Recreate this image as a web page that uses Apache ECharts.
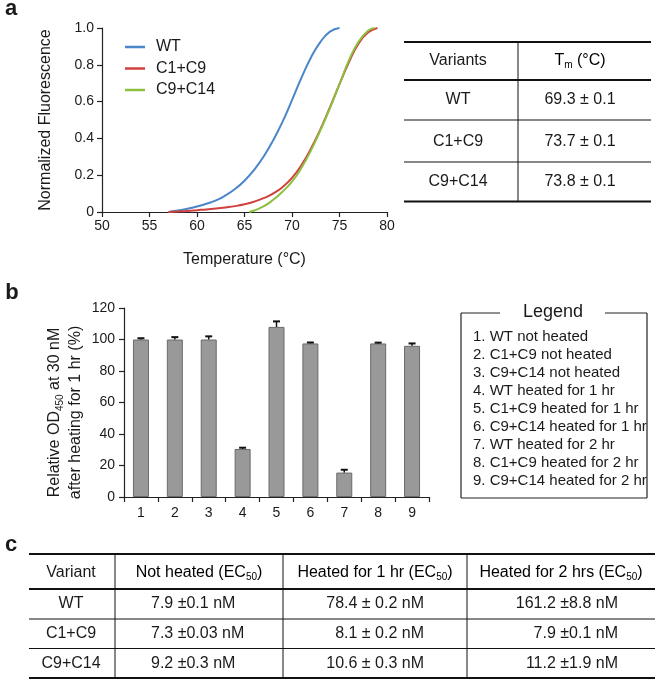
<!DOCTYPE html>
<html>
<head>
<meta charset="utf-8">
<script src="https://cdn.jsdelivr.net/npm/echarts@6/dist/echarts.min.js"></script>
<style>
html,body{margin:0;padding:0;background:#fff;}
#chart{width:660px;height:685px;}
</style>
</head>
<body>
<div id="chart"></div>
<script>
// ---------- Panel a: melting curves ----------
var tempsWT   = [57,58,59,60,61,62,63,64,65,66,67,68,69,70,71,72,73,74,75];
var fluorWT   = [0,0.008,0.018,0.03,0.045,0.063,0.09,0.125,0.17,0.228,0.3,0.388,0.49,0.608,0.73,0.84,0.925,0.98,1.0];
var tempsC1C9 = [57,58,59,60,61,62,63,64,65,66,67,68,69,70,71,72,73,74,75,76,77,78,79];
var fluorC1C9 = [0,0.003,0.006,0.01,0.014,0.019,0.025,0.032,0.042,0.056,0.075,0.1,0.135,0.185,0.255,0.345,0.45,0.57,0.695,0.815,0.915,0.975,1.0];
var tempsC9C14 = [65.5,66,67,68,69,70,71,72,73,74,75,76,77,78,78.7];
var fluorC9C14 = [0,0.008,0.03,0.065,0.11,0.165,0.24,0.335,0.445,0.565,0.695,0.825,0.925,0.985,1.0];
var seriesNames = ['WT','C1+C9','C9+C14'];
var seriesColors = ['#4a86c8','#d0403e','#8cc040'];

// Table a
var tableAHeader = ['Variants','Tm (°C)'];
var tableAVariants = ['WT','C1+C9','C9+C14'];
var tableATm = ['69.3 ± 0.1','73.7 ± 0.1','73.8 ± 0.1'];

// ---------- Panel b: bar chart ----------
var barCategories = ['1','2','3','4','5','6','7','8','9'];
var barValues = [100,100,100,30.5,108,97.5,15.5,97.5,96];
var barErrors = [0.8,1.5,2,0.8,3.5,0.6,1.8,0.5,1.5];
var legendItems = ['1. WT not heated','2. C1+C9 not heated','3. C9+C14 not heated','4. WT heated for 1 hr',
  '5. C1+C9 heated for 1 hr','6. C9+C14 heated for 1 hr','7. WT heated for 2 hr','8. C1+C9 heated for 2 hr','9. C9+C14 heated for 2 hr'];

// ---------- Panel c: table ----------
var tableCHeader = ['Variant','Not heated','Heated for 1 hr','Heated for 2 hrs'];
var tableCVariants = ['WT','C1+C9','C9+C14'];
var tableCNotHeated = ['7.9 ±0.1 nM','7.3 ±0.03 nM','9.2 ±0.3 nM'];
var tableCHeated1 = ['78.4 ± 0.2 nM','8.1 ± 0.2 nM','10.6 ± 0.3 nM'];
var tableCHeated2 = ['161.2 ±8.8 nM','7.9 ±0.1 nM','11.2 ±1.9 nM'];

var FONT = 'Liberation Sans, Arial, Helvetica, sans-serif';
var TXT = '#1a1a1a';
var AX = '#222';

function pairs(xs, ys){ return xs.map(function(x,i){ return [x, ys[i]]; }); }

var graphics = [];
function txt(x, y, text, size, align, weight){
  graphics.push({type:'text', z:10, style:{x:x, y:y, text:text, fill:TXT,
    font: (weight ? weight+' ' : '') + size+'px '+FONT, align: align||'center', verticalAlign:'middle'}});
}
function richTxt(x, y, text, size, align){
  graphics.push({type:'text', z:10, style:{x:x, y:y, text:text, align:align||'center', verticalAlign:'middle',
    rich:{a:{fontSize:size, fontFamily:FONT, color:TXT, lineHeight:size+2},
          s:{fontSize:Math.round(size*0.62), fontFamily:FONT, color:TXT, verticalAlign:'bottom', lineHeight:size+2}}}});
}
function hline(x1, x2, y, w){
  graphics.push({type:'line', z:9, shape:{x1:x1, y1:y, x2:x2, y2:y}, style:{stroke:'#111', lineWidth:w}});
}
function vline(x, y1, y2, w){
  graphics.push({type:'line', z:9, shape:{x1:x, y1:y1, x2:x, y2:y2}, style:{stroke:'#111', lineWidth:w}});
}

// panel labels
txt(11, 9, 'a', 22, 'center', 'bold');
txt(12, 293, 'b', 22, 'center', 'bold');
txt(11, 545, 'c', 22, 'center', 'bold');

// Table a
hline(404, 651, 42, 2);
hline(404, 651, 80, 2);
hline(404, 651, 120, 1);
hline(404, 651, 162, 1);
hline(404, 651, 201.5, 2);
vline(518, 42, 201.5, 1);
txt(458, 61, tableAHeader[0], 16);
richTxt(580, 61, '{a|T}{s|m}{a| (°C)}', 16);
var rowYA = [100, 141.5, 181.5];
for (var i=0;i<3;i++){
  txt(458, rowYA[i], tableAVariants[i], 16);
  txt(580, rowYA[i], tableATm[i], 16);
}

// Legend box for panel b
var LB = {x1:461, x2:647, y1:313, y2:498};
for (var i=0;i<legendItems.length;i++){
  txt(473, 337 + i*17.95, legendItems[i], 15, 'left');
}
graphics.push({type:'rect', z:11, shape:{x:647.5, y:314, width:13, height:184}, style:{fill:'#fff'}});
graphics.push({type:'line', z:12, shape:{x1:LB.x1, y1:LB.y1, x2:500, y2:LB.y1}, style:{stroke:'#222', lineWidth:1.2}});
graphics.push({type:'line', z:12, shape:{x1:605, y1:LB.y1, x2:LB.x2, y2:LB.y1}, style:{stroke:'#222', lineWidth:1.2}});
graphics.push({type:'line', z:12, shape:{x1:LB.x1, y1:LB.y1, x2:LB.x1, y2:LB.y2}, style:{stroke:'#222', lineWidth:1.2}});
graphics.push({type:'line', z:12, shape:{x1:LB.x2, y1:LB.y1, x2:LB.x2, y2:LB.y2}, style:{stroke:'#222', lineWidth:1.2}});
graphics.push({type:'line', z:12, shape:{x1:LB.x1, y1:LB.y2, x2:LB.x2, y2:LB.y2}, style:{stroke:'#222', lineWidth:1.2}});
txt(553, 312, 'Legend', 18);

// Table c
hline(29, 655, 554, 2);
hline(29, 655, 589, 2);
hline(29, 655, 619, 1);
hline(29, 655, 648.5, 1);
hline(29, 655, 678, 2);
vline(115, 554, 678, 1);
vline(283, 554, 678, 1);
vline(467, 554, 678, 1);
txt(71, 573, tableCHeader[0], 16);
richTxt(199, 573, '{a|'+tableCHeader[1]+' (EC}{s|50}{a|)}', 16);
richTxt(375, 573, '{a|'+tableCHeader[2]+' (EC}{s|50}{a|)}', 16);
richTxt(561, 573, '{a|'+tableCHeader[3]+' (EC}{s|50}{a|)}', 16);
var rowYC = [604, 633.5, 663.5];
for (var i=0;i<3;i++){
  txt(71, rowYC[i], tableCVariants[i], 16);
  txt(151, rowYC[i], tableCNotHeated[i], 16, 'left');
  txt(424, rowYC[i], tableCHeated1[i], 16, 'right');
  txt(618, rowYC[i], tableCHeated2[i], 16, 'right');
}

var chart = echarts.init(document.getElementById('chart'), null, {renderer:'canvas'});

var axisCommon = {
  axisLine:{show:true, lineStyle:{color:AX, width:1.2}},
  axisTick:{show:true, inside:false, length:5, lineStyle:{color:AX, width:1.2}},
  splitLine:{show:false},
  axisLabel:{color:TXT, fontSize:14, fontFamily:FONT}
};
function merge(a,b){ var o = JSON.parse(JSON.stringify(a)); for (var k in b){ if (typeof b[k]==='object' && o[k] && !Array.isArray(b[k])) { for (var j in b[k]) o[k][j]=b[k][j]; } else o[k]=b[k]; } return o; }

var option = {
  animation:false,
  backgroundColor:'#fff',
  textStyle:{fontFamily:FONT},
  grid:[
    {left:102, top:28, width:285, height:184, containLabel:false},
    {left:124, top:308, width:305, height:189, containLabel:false}
  ],
  legend:{
    data: seriesNames, orient:'vertical', left:120, top:34, icon:'rect', itemWidth:20, itemHeight:2.5,
    itemGap:5.5, textStyle:{fontSize:16, color:TXT, fontFamily:FONT, padding:[0,0,0,6]}, selectedMode:false
  },
  xAxis:[
    merge(axisCommon, {type:'value', gridIndex:0, min:50, max:80, interval:5,
      name:'Temperature (°C)', nameLocation:'middle', nameGap:40,
      nameTextStyle:{fontSize:16, color:TXT, fontFamily:FONT},
      axisLabel:{margin:7}}),
    merge(axisCommon, {type:'category', gridIndex:1, data:barCategories, boundaryGap:true,
      axisTick:{alignWithLabel:false, interval:0},
      axisLabel:{margin:9, interval:0}})
  ],
  yAxis:[
    merge(axisCommon, {type:'value', gridIndex:0, min:0, max:1, interval:0.2,
      name:'Normalized Fluorescence', nameLocation:'middle', nameGap:48, nameRotate:90,
      nameTextStyle:{fontSize:16, color:TXT, fontFamily:FONT},
      axisLabel:{margin:8, formatter:function(v){ return v===0 ? '0' : v.toFixed(1); }}}),
    merge(axisCommon, {type:'value', gridIndex:1, min:0, max:120, interval:20,
      name:'{a|Relative OD}{s|450}{a| at 30 nM}\n{a|after heating for 1 hr (%)}',
      nameLocation:'middle', nameGap:38, nameRotate:90,
      nameTextStyle:{padding:[0,20,0,0], rich:{
        a:{fontSize:16, color:TXT, fontFamily:FONT, lineHeight:21},
        s:{fontSize:10, color:TXT, fontFamily:FONT, lineHeight:21, verticalAlign:'bottom'}}},
      axisLabel:{margin:9}})
  ],
  graphic: graphics,
  series:[
    {name:seriesNames[0], type:'line', xAxisIndex:0, yAxisIndex:0, data:pairs(tempsWT, fluorWT), smooth:0.5,
      showSymbol:false, itemStyle:{color:seriesColors[0]}, lineStyle:{color:seriesColors[0], width:2}, z:3},
    {name:seriesNames[1], type:'line', xAxisIndex:0, yAxisIndex:0, data:pairs(tempsC1C9, fluorC1C9), smooth:0.5,
      showSymbol:false, itemStyle:{color:seriesColors[1]}, lineStyle:{color:seriesColors[1], width:2}, z:3},
    {name:seriesNames[2], type:'line', xAxisIndex:0, yAxisIndex:0, data:pairs(tempsC9C14, fluorC9C14), smooth:0.5,
      showSymbol:false, itemStyle:{color:seriesColors[2]}, lineStyle:{color:seriesColors[2], width:2}, z:4},
    {type:'bar', xAxisIndex:1, yAxisIndex:1, data:barValues, barWidth:16,
      itemStyle:{color:'#999999', borderColor:'#6a6a6a', borderWidth:1}, z:2},
    {type:'custom', xAxisIndex:1, yAxisIndex:1, z:5,
      data: barValues.map(function(v,i){ return [i, v, barErrors[i]]; }),
      renderItem:function(params, api){
        var i = api.value(0), v = api.value(1), e = api.value(2);
        var p0 = api.coord([i, v]);
        var p1 = api.coord([i, v + e]);
        return {type:'group', children:[
          {type:'line', shape:{x1:p0[0], y1:p0[1], x2:p1[0], y2:p1[1]}, style:{stroke:'#111', lineWidth:1.5}},
          {type:'line', shape:{x1:p1[0]-3.5, y1:p1[1], x2:p1[0]+3.5, y2:p1[1]}, style:{stroke:'#111', lineWidth:2}}
        ]};
      }}
  ]
};
chart.setOption(option);
</script>
</body>
</html>
